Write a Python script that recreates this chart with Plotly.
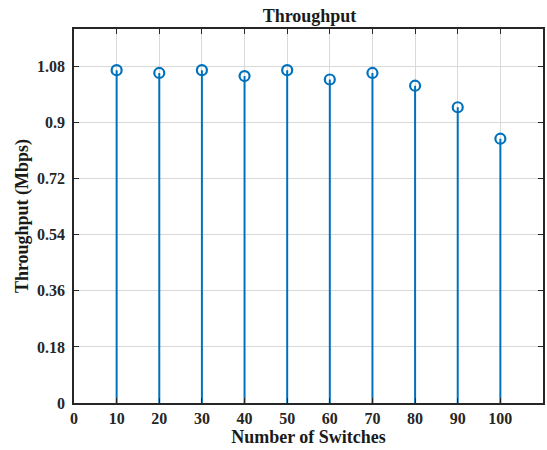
import plotly.graph_objects as go

# Throughput measured for each network size
switches = [10, 20, 30, 40, 50, 60, 70, 80, 90, 100]
throughput = [1.068, 1.059, 1.068, 1.049, 1.068, 1.038, 1.059, 1.018, 0.949, 0.848]

y_ticks = [0, 0.18, 0.36, 0.54, 0.72, 0.9, 1.08]
y_tick_labels = ["0", "0.18", "0.36", "0.54", "0.72", "0.9", "1.08"]
x_ticks = [0, 10, 20, 30, 40, 50, 60, 70, 80, 90, 100]

STEM_COLOR = "#0072BD"
FONT = "Liberation Serif"

# stem lines: one segment from the baseline up to each value
stem_x, stem_y = [], []
for s, t in zip(switches, throughput):
    stem_x += [s, s, None]
    stem_y += [0, t, None]

fig = go.Figure()
fig.add_trace(go.Scatter(
    x=stem_x, y=stem_y, mode="lines",
    line=dict(color=STEM_COLOR, width=2),
    hoverinfo="skip", showlegend=False,
))
fig.add_trace(go.Scatter(
    x=switches, y=throughput, mode="markers",
    marker=dict(symbol="circle-open", size=10, color=STEM_COLOR,
                line=dict(width=2.2, color=STEM_COLOR)),
    showlegend=False,
))

axis_common = dict(
    showline=True, linecolor="#262626", linewidth=1.5, mirror="ticks",
    ticks="inside", ticklen=5, tickwidth=1.2, tickcolor="#262626",
    showgrid=True, gridcolor="#d9d9d9", gridwidth=1,
    zeroline=False,
    tickfont=dict(family=FONT, size=16, color="#262626", weight="bold"),
)

fig.update_layout(
    width=547, height=450,
    margin=dict(l=74, r=2, t=29, b=47),
    paper_bgcolor="white", plot_bgcolor="white",
    title=dict(
        text="Throughput",
        font=dict(family=FONT, size=18, color="#1a1a1a", weight="bold"),
        x=(74 + 545) / 2 / 547, xanchor="center", xref="container",
        y=1 - 16 / 450, yanchor="middle", yref="container",
    ),
    xaxis=dict(
        range=[0, 110], tickvals=x_ticks,
        title=dict(text="Number of Switches", standoff=4,
                   font=dict(family=FONT, size=18, color="#1a1a1a", weight="bold")),
        **axis_common,
    ),
    yaxis=dict(
        range=[0, 1.2], tickvals=y_ticks, ticktext=y_tick_labels,
        title=dict(text="Throughput (Mbps)", standoff=4,
                   font=dict(family=FONT, size=18, color="#1a1a1a", weight="bold")),
        ticklabelstandoff=4,
        **axis_common,
    ),
)

fig.write_html("out.html")
